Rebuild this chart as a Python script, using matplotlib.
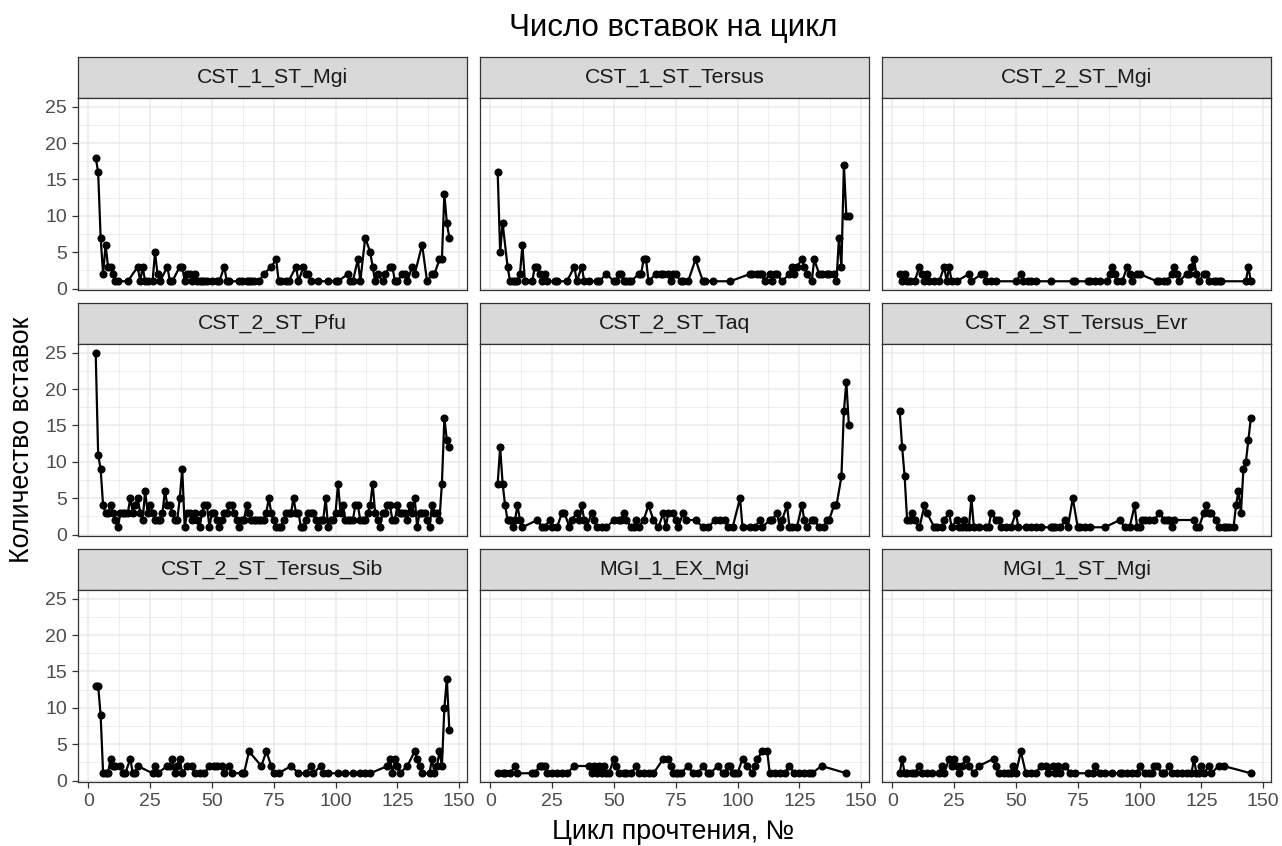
import matplotlib.pyplot as plt
from matplotlib.ticker import MultipleLocator

plt.rcParams['font.family'] = ['Liberation Sans', 'DejaVu Sans']

# insertions per sequencing cycle, one pair of lists per run
cst1_mgi_cycle = [3, 4, 5, 6, 7, 8, 9, 10, 11, 12, 16, 20, 21, 22, 23, 24, 26, 27, 28, 29,
                  32, 33, 34, 37, 38, 39, 40, 41, 42, 43, 44, 45, 46, 47, 48, 50, 52, 53, 55, 56,
                  57, 61, 62, 64, 65, 66, 67, 69, 71, 74, 76, 77, 78, 80, 81, 84, 85, 87, 88, 89,
                  90, 93, 97, 100, 101, 105, 106, 107, 109, 110, 112, 114, 115, 116, 117, 119, 120, 122, 123, 124,
                  125, 127, 128, 129, 131, 132, 135, 137, 139, 140, 142, 143, 144, 145, 146]
cst1_mgi_ins = [18, 16, 7, 2, 6, 3, 3, 2, 1, 1, 1, 3, 1, 3, 1, 1, 1, 5, 2, 1,
                3, 1, 1, 3, 3, 1, 2, 2, 1, 2, 1, 1, 1, 1, 1, 1, 1, 1, 3, 1,
                1, 1, 1, 1, 1, 1, 1, 1, 2, 3, 4, 1, 1, 1, 1, 3, 1, 3, 2, 2,
                1, 1, 1, 1, 1, 2, 1, 1, 4, 1, 7, 5, 3, 1, 2, 1, 2, 3, 3, 1,
                1, 2, 2, 1, 3, 2, 6, 1, 2, 2, 4, 4, 13, 9, 7]

cst1_tersus_cycle = [3, 4, 5, 7, 8, 9, 10, 11, 12, 13, 14, 17, 18, 19, 20, 21, 22, 23, 26, 27,
                     31, 34, 35, 37, 38, 40, 43, 44, 47, 50, 51, 52, 53, 54, 55, 56, 57, 60, 61, 62,
                     63, 64, 67, 69, 70, 72, 73, 74, 75, 77, 78, 80, 83, 86, 87, 90, 97, 105, 106, 108,
                     109, 110, 111, 113, 114, 115, 116, 118, 121, 122, 123, 124, 126, 127, 128, 130, 131, 133, 134, 136,
                     137, 139, 140, 141, 142, 143, 144, 145]
cst1_tersus_ins = [16, 5, 9, 3, 1, 1, 1, 1, 2, 6, 1, 1, 3, 3, 2, 1, 2, 1, 1, 1,
                   1, 3, 1, 3, 1, 1, 1, 1, 2, 1, 1, 2, 2, 1, 1, 1, 1, 2, 2, 4,
                   4, 1, 2, 2, 2, 2, 1, 2, 2, 1, 1, 1, 4, 1, 1, 1, 1, 2, 2, 2,
                   2, 2, 1, 2, 1, 2, 2, 1, 2, 3, 2, 3, 4, 3, 2, 1, 4, 2, 2, 2,
                   2, 2, 1, 7, 3, 17, 10, 10]

cst2_mgi_cycle = [3, 4, 5, 6, 7, 9, 11, 12, 13, 14, 15, 17, 19, 21, 22, 23, 24, 26, 31, 32,
                  36, 37, 38, 40, 42, 50, 52, 53, 55, 56, 58, 64, 73, 74, 79, 80, 82, 84, 87, 88,
                  89, 90, 91, 93, 95, 96, 97, 99, 100, 107, 108, 110, 111, 113, 114, 115, 116, 119, 120, 121,
                  122, 123, 124, 126, 127, 128, 130, 131, 132, 133, 143, 144, 145]
cst2_mgi_ins = [2, 1, 2, 1, 1, 1, 3, 2, 1, 2, 1, 1, 1, 3, 1, 3, 1, 1, 2, 1,
                2, 2, 1, 1, 1, 1, 2, 1, 1, 1, 1, 1, 1, 1, 1, 1, 1, 1, 1, 2,
                3, 2, 1, 1, 3, 2, 1, 2, 2, 1, 1, 1, 1, 2, 3, 2, 1, 2, 2, 3,
                4, 2, 1, 2, 2, 1, 1, 1, 1, 1, 1, 3, 1]

cst2_pfu_cycle = list(range(3, 147))
cst2_pfu_ins = [25, 11, 9, 4, 3, 3, 4, 3, 2, 1,
                3, 3, 3, 3, 5, 3, 4, 5, 3, 2,
                6, 3, 4, 3, 2, 2, 2, 3, 6, 4,
                4, 3, 2, 2, 5, 9, 1, 3, 3, 2,
                3, 2, 1, 3, 4, 4, 1, 3, 3, 2,
                1, 2, 3, 3, 4, 4, 3, 2, 1, 2,
                2, 4, 3, 2, 2, 2, 2, 2, 2, 3,
                5, 3, 2, 1, 1, 1, 2, 3, 3, 3,
                5, 3, 3, 1, 1, 2, 3, 3, 3, 2,
                1, 2, 2, 5, 1, 2, 2, 3, 7, 3,
                4, 2, 2, 2, 2, 4, 4, 2, 2, 2,
                3, 4, 7, 3, 2, 1, 3, 3, 4, 4,
                2, 2, 4, 3, 3, 3, 2, 4, 3, 5,
                1, 3, 3, 3, 2, 1, 4, 3, 3, 2,
                7, 16, 13, 12]

cst2_taq_cycle = [3, 4, 5, 6, 7, 8, 9, 10, 11, 12, 13, 19, 21, 22, 24, 25, 27, 29, 30, 32,
                  33, 35, 36, 37, 38, 39, 41, 42, 43, 45, 47, 50, 52, 53, 54, 55, 57, 58, 59, 60,
                  62, 64, 66, 68, 70, 71, 72, 74, 75, 76, 78, 79, 83, 86, 88, 91, 93, 95, 96, 98,
                  101, 102, 105, 107, 109, 110, 113, 114, 116, 117, 118, 120, 121, 122, 124, 126, 127, 128, 130, 131,
                  133, 135, 136, 137, 139, 140, 142, 143, 144, 145]
cst2_taq_ins = [7, 12, 7, 4, 2, 2, 1, 2, 4, 2, 1, 2, 1, 1, 2, 1, 1, 3, 3, 1,
                2, 3, 2, 4, 2, 1, 3, 2, 1, 1, 1, 2, 2, 2, 3, 2, 1, 1, 2, 1,
                2, 4, 2, 1, 3, 1, 3, 3, 2, 1, 3, 2, 2, 1, 1, 2, 2, 2, 1, 1,
                5, 1, 1, 1, 2, 1, 2, 2, 3, 1, 2, 4, 1, 1, 1, 4, 2, 1, 2, 2,
                1, 1, 2, 2, 4, 4, 8, 17, 21, 15]

cst2_evr_cycle = [3, 4, 5, 6, 7, 8, 9, 11, 13, 14, 17, 18, 20, 21, 23, 24, 26, 27, 28, 29,
                  30, 31, 32, 33, 35, 38, 39, 40, 42, 43, 44, 46, 48, 50, 51, 54, 56, 58, 60, 64,
                  65, 66, 68, 70, 71, 73, 75, 76, 78, 80, 86, 92, 94, 96, 98, 99, 100, 101, 102, 104,
                  106, 108, 110, 111, 112, 113, 114, 122, 123, 124, 126, 127, 128, 129, 131, 132, 134, 135, 136, 138,
                  139, 140, 141, 142, 143, 144, 145]
cst2_evr_ins = [17, 12, 8, 2, 2, 3, 2, 1, 4, 3, 1, 1, 1, 2, 3, 1, 2, 1, 1, 2,
                1, 1, 5, 1, 1, 1, 1, 3, 2, 2, 1, 1, 1, 3, 1, 1, 1, 1, 1, 1,
                1, 1, 1, 2, 1, 5, 1, 1, 1, 1, 1, 2, 1, 1, 4, 1, 1, 2, 2, 2,
                2, 3, 2, 2, 2, 1, 2, 2, 1, 1, 3, 4, 3, 3, 2, 1, 1, 1, 1, 1,
                4, 6, 3, 9, 10, 13, 16]

cst2_sib_cycle = [3, 4, 5, 6, 7, 8, 9, 10, 11, 13, 14, 15, 17, 18, 19, 20, 26, 27, 28, 32,
                  33, 34, 35, 36, 37, 38, 40, 42, 43, 45, 47, 49, 51, 52, 54, 55, 57, 58, 62, 63,
                  65, 70, 72, 74, 75, 77, 82, 85, 88, 90, 91, 94, 95, 97, 101, 104, 107, 110, 112, 114,
                  121, 122, 123, 124, 125, 126, 129, 132, 133, 134, 135, 138, 139, 140, 141, 142, 143, 144, 145, 146]
cst2_sib_ins = [13, 13, 9, 1, 1, 1, 3, 2, 2, 2, 1, 1, 3, 1, 1, 2, 1, 2, 1, 2,
                2, 3, 1, 2, 3, 1, 2, 2, 1, 1, 1, 2, 2, 2, 2, 1, 2, 1, 1, 1,
                4, 2, 4, 2, 1, 1, 2, 1, 1, 2, 1, 2, 1, 1, 1, 1, 1, 1, 1, 1,
                2, 3, 1, 3, 2, 1, 2, 4, 3, 2, 1, 1, 3, 1, 2, 4, 2, 10, 14, 7]

mgi_ex_cycle = [3, 5, 6, 8, 10, 11, 17, 18, 20, 21, 22, 23, 25, 27, 29, 31, 34, 40, 41, 42,
                43, 44, 45, 46, 47, 48, 50, 51, 52, 54, 55, 57, 59, 60, 62, 64, 66, 70, 72, 73,
                74, 75, 76, 77, 80, 82, 84, 86, 88, 89, 92, 94, 95, 96, 97, 98, 99, 100, 102, 104,
                106, 107, 108, 110, 112, 113, 115, 117, 119, 121, 123, 125, 127, 129, 130, 134, 144]
mgi_ex_ins = [1, 1, 1, 1, 2, 1, 1, 1, 2, 2, 2, 1, 1, 1, 1, 1, 2, 2, 1, 2,
              1, 2, 1, 2, 1, 1, 3, 2, 1, 1, 1, 1, 2, 1, 1, 1, 1, 3, 3, 2,
              1, 1, 1, 1, 2, 1, 1, 2, 1, 1, 2, 1, 1, 2, 2, 1, 1, 1, 3, 2,
              1, 2, 3, 4, 4, 1, 1, 1, 1, 2, 1, 1, 1, 1, 1, 2, 1]

mgi_st_cycle = [3, 4, 5, 6, 8, 9, 11, 12, 14, 16, 19, 20, 21, 23, 24, 25, 26, 27, 28, 30,
                31, 33, 35, 41, 42, 43, 45, 47, 48, 49, 50, 52, 54, 56, 58, 60, 62, 63, 65, 66,
                67, 68, 70, 72, 74, 79, 81, 82, 84, 86, 89, 92, 93, 95, 97, 99, 100, 102, 104, 105,
                106, 107, 109, 110, 112, 113, 115, 117, 119, 121, 122, 123, 124, 125, 126, 128, 129, 132, 134, 145]
mgi_st_ins = [1, 3, 1, 1, 1, 1, 2, 1, 1, 1, 1, 2, 1, 3, 2, 3, 2, 1, 2, 3,
              2, 1, 2, 3, 2, 1, 1, 1, 1, 2, 1, 4, 1, 1, 1, 2, 2, 1, 2, 1,
              2, 1, 2, 1, 1, 1, 1, 2, 1, 1, 1, 1, 1, 1, 1, 1, 2, 1, 1, 1,
              2, 2, 1, 1, 2, 1, 1, 1, 1, 1, 3, 1, 1, 2, 1, 2, 1, 2, 2, 1]

run_names = ["CST_1_ST_Mgi", "CST_1_ST_Tersus", "CST_2_ST_Mgi",
             "CST_2_ST_Pfu", "CST_2_ST_Taq", "CST_2_ST_Tersus_Evr",
             "CST_2_ST_Tersus_Sib", "MGI_1_EX_Mgi", "MGI_1_ST_Mgi"]
run_data = [(cst1_mgi_cycle, cst1_mgi_ins), (cst1_tersus_cycle, cst1_tersus_ins),
            (cst2_mgi_cycle, cst2_mgi_ins), (cst2_pfu_cycle, cst2_pfu_ins),
            (cst2_taq_cycle, cst2_taq_ins), (cst2_evr_cycle, cst2_evr_ins),
            (cst2_sib_cycle, cst2_sib_ins), (mgi_ex_cycle, mgi_ex_ins),
            (mgi_st_cycle, mgi_st_ins)]

W, H = 1282, 846
fig = plt.figure(figsize=(W / 100, H / 100), dpi=100)


def px_axes(x0, y0, x1, y1):
    # pixel box measured from the top-left corner
    return fig.add_axes([x0 / W, 1 - y1 / H, (x1 - x0) / W, (y1 - y0) / H])


# shared scales, ggplot-style 5% expansion
all_x = [c for cyc, _ in run_data for c in cyc]
all_y = [v for _, ins in run_data for v in ins]
xr = max(all_x) - min(all_x)
yr = max(all_y) - min(all_y)
xlim = (min(all_x) - 0.05 * xr, max(all_x) + 0.05 * xr)
ylim = (min(all_y) - 0.05 * yr, max(all_y) + 0.05 * yr)

col_left = [78, 480, 882]
panel_w = 389
row_top = [57, 303, 549]
strip_h = 41
panel_h = 192
dark = "#333333"

for i, (name, (cyc, ins)) in enumerate(zip(run_names, run_data)):
    r, c = divmod(i, 3)
    x0 = col_left[c]
    y0 = row_top[r]

    st = px_axes(x0, y0, x0 + panel_w, y0 + strip_h)
    st.set_facecolor("#D9D9D9")
    st.set_xticks([]); st.set_yticks([])
    for s in st.spines.values():
        s.set_color(dark); s.set_linewidth(0.9)
    st.text(0.5, 0.5, name, ha="center", va="center", fontsize=15.3,
            color="#1A1A1A", transform=st.transAxes)

    ax = px_axes(x0, y0 + strip_h, x0 + panel_w, y0 + strip_h + panel_h)
    ax.plot(cyc, ins, color="black", lw=1.6, zorder=3)
    ax.plot(cyc, ins, "o", color="black", ms=4.8, zorder=4)
    ax.set_xlim(*xlim); ax.set_ylim(*ylim)
    ax.xaxis.set_major_locator(MultipleLocator(25))
    ax.xaxis.set_minor_locator(MultipleLocator(12.5))
    ax.yaxis.set_major_locator(MultipleLocator(5))
    ax.yaxis.set_minor_locator(MultipleLocator(2.5))
    ax.grid(which="major", color="#EBEBEB", lw=1.1)
    ax.grid(which="minor", color="#EBEBEB", lw=0.6)
    ax.set_axisbelow(True)
    for s in ax.spines.values():
        s.set_color(dark); s.set_linewidth(0.9)
    ax.tick_params(which="minor", length=0)
    ax.tick_params(which="major", length=4.5, width=0.9, color=dark,
                   labelsize=14, labelcolor="#4D4D4D", pad=3.5)
    if c != 0:
        ax.tick_params(axis="y", which="major", left=False, labelleft=False)
    if r != 2:
        ax.tick_params(axis="x", which="major", bottom=False, labelbottom=False)

fig.text(673 / W, 1 - 28 / H, "Число вставок на цикл", fontsize=22.5,
         ha="center", va="center", color="black")
fig.text(673 / W, 1 - 832 / H, "Цикл прочтения, №", fontsize=19.3,
         ha="center", va="center", color="black")
fig.text(22 / W, 1 - 440 / H, "Количество вставок", fontsize=19.3,
         ha="center", va="center", rotation=90, color="black")

fig.savefig("out.png", dpi=100)
